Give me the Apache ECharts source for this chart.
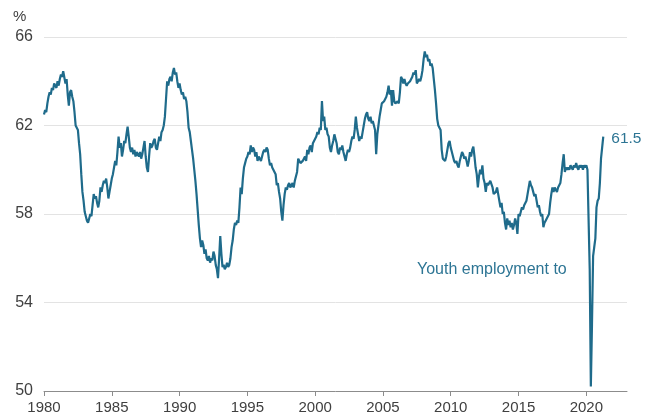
<!DOCTYPE html>
<html>
<head>
<meta charset="utf-8">
<script src="https://cdn.jsdelivr.net/npm/echarts@6/dist/echarts.min.js"></script>
<style>
  html, body { margin: 0; padding: 0; background: #fff; }
  #chart { width: 659px; height: 419px; }
</style>
</head>
<body>
<div id="chart"></div>
<script>
// monthly youth employment rate, %, from Jan 1980
const startYear = 1980
const youthRate = [
  62.5, 62.7, 62.6, 63.0, 63.3, 63.5, 63.4, 63.7, 63.6, 63.9, 63.8, 63.7, // 1980
  64.0, 63.8, 64.1, 64.3, 64.2, 64.45, 64.4, 63.9, 64.1, 63.4, 62.9, 63.5, // 1981
  63.6, 63.3, 63.1, 62.6, 62.0, 61.9, 61.8, 61.2, 60.7, 59.8, 59.0, 58.6, // 1982
  58.1, 57.9, 57.7, 57.6, 57.8, 58.0, 57.9, 58.4, 58.9, 58.7, 58.8, 58.5, // 1983
  58.3, 58.6, 59.2, 59.0, 59.3, 59.5, 59.4, 59.6, 59.2, 58.7, 59.0, 59.3, // 1984
  59.6, 59.8, 60.1, 60.4, 60.2, 60.8, 61.5, 61.0, 61.2, 60.6, 60.9, 61.3, // 1985
  61.2, 61.6, 61.95, 61.5, 61.0, 60.8, 61.0, 60.7, 60.9, 60.6, 60.8, 60.7, // 1986
  60.6, 60.8, 60.5, 60.7, 61.0, 61.3, 60.6, 60.1, 59.9, 60.6, 61.2, 61.0, // 1987
  61.1, 61.3, 61.4, 61.0, 60.9, 61.2, 61.5, 61.3, 61.7, 61.8, 62.0, 62.4, // 1988
  63.2, 64.0, 63.8, 64.1, 64.2, 64.0, 64.4, 64.6, 64.3, 64.4, 64.0, 63.7, // 1989
  63.9, 63.6, 63.4, 63.5, 63.2, 63.3, 63.1, 62.6, 61.9, 61.7, 61.3, 60.9, // 1990
  60.5, 60.0, 59.5, 58.9, 58.2, 57.5, 56.9, 56.5, 56.8, 56.6, 56.2, 56.4, // 1991
  56.0, 55.9, 56.1, 55.8, 56.0, 55.9, 56.3, 56.1, 55.7, 55.5, 55.1, 56.0, // 1992
  57.0, 56.2, 55.6, 55.7, 55.5, 55.6, 55.8, 55.6, 55.7, 56.0, 56.5, 56.8, // 1993
  57.3, 57.6, 57.5, 57.7, 57.6, 58.3, 59.2, 58.9, 59.6, 60.1, 60.3, 60.5, // 1994
  60.6, 60.8, 60.7, 61.1, 60.8, 61.0, 60.9, 60.6, 60.8, 60.4, 60.6, 60.5, // 1995
  60.4, 60.6, 60.8, 60.9, 60.8, 61.0, 60.9, 60.5, 60.2, 60.3, 60.1, 60.0, // 1996
  60.0, 59.8, 59.3, 59.4, 59.0, 58.7, 58.1, 57.7, 58.4, 58.9, 59.2, 59.1, // 1997
  59.3, 59.4, 59.2, 59.3, 59.4, 59.2, 59.5, 59.5, 59.9, 60.5, 60.4, 60.3, // 1998
  60.3, 60.4, 60.5, 60.6, 60.4, 60.9, 60.7, 61.0, 61.1, 60.8, 61.2, 61.3, // 1999
  61.3, 61.5, 61.7, 61.6, 61.9, 61.8, 63.1, 62.2, 62.4, 61.8, 61.9, 61.6, // 2000
  61.5, 61.0, 60.8, 61.1, 61.3, 61.6, 61.4, 61.2, 60.8, 60.7, 61.0, 60.9, // 2001
  61.1, 60.8, 60.6, 60.4, 60.7, 60.9, 60.8, 61.0, 61.3, 61.5, 61.4, 61.8, // 2002
  62.4, 61.9, 61.6, 61.3, 61.5, 61.4, 61.7, 62.0, 62.3, 62.5, 62.6, 62.3, // 2003
  62.2, 62.4, 62.1, 62.2, 62.0, 61.8, 60.7, 61.6, 62.0, 62.4, 62.7, 63.0, // 2004
  63.0, 63.1, 63.2, 63.3, 63.5, 63.8, 63.4, 63.6, 62.9, 63.6, 63.1, 63.0, // 2005
  63.0, 63.1, 63.0, 63.5, 64.2, 64.1, 63.9, 64.1, 63.9, 63.8, 63.9, 63.9, // 2006
  64.0, 64.1, 64.2, 64.4, 64.3, 64.5, 63.9, 64.0, 64.1, 64.0, 64.2, 64.5, // 2007
  65.0, 65.35, 65.1, 65.2, 64.9, 65.0, 64.7, 64.8, 64.6, 64.1, 63.6, 63.0, // 2008
  62.3, 62.0, 61.9, 61.8, 60.9, 60.5, 60.5, 60.4, 60.6, 60.9, 61.2, 61.3, // 2009
  61.0, 60.8, 60.6, 60.4, 60.3, 60.4, 60.2, 60.1, 60.4, 60.6, 60.8, 60.7, // 2010
  60.5, 60.6, 60.4, 60.15, 60.4, 60.8, 60.6, 60.9, 61.05, 60.6, 60.1, 59.8, // 2011
  59.2, 59.7, 60.0, 59.8, 60.2, 59.6, 59.4, 59.0, 59.4, 59.3, 59.4, 59.5, // 2012
  59.5, 59.2, 58.9, 58.9, 59.0, 59.2, 58.9, 58.6, 58.3, 58.5, 58.0, 58.1, // 2013
  57.6, 57.3, 57.8, 57.5, 57.7, 57.4, 57.6, 57.3, 57.5, 57.8, 57.6, 57.1, // 2014
  58.0, 57.9, 58.1, 58.3, 58.2, 58.4, 58.5, 58.6, 58.9, 59.2, 59.5, 59.3, // 2015
  59.2, 59.0, 58.8, 58.9, 58.6, 58.3, 58.4, 58.1, 57.9, 58.0, 57.4, 57.6, // 2016
  57.7, 57.8, 57.9, 58.0, 58.5, 58.9, 59.2, 59.0, 59.2, 59.1, 59.0, 59.2, // 2017
  59.3, 59.4, 59.8, 60.3, 60.7, 59.9, 60.1, 60.0, 60.1, 60.0, 60.2, 60.1, // 2018
  60.0, 60.2, 60.1, 60.3, 60.1, 60.0, 60.2, 60.1, 60.2, 60.0, 60.2, 60.1, // 2019
  60.2, 60.0, 60.0, 55.5, 50.2, 53.0, 56.1, 56.5, 56.9, 58.3, 58.6, 58.7, // 2020
  59.4, 60.5, 61.0, 61.5                                                  // 2021
]
const yTicks = [50, 54, 58, 62, 66]
const xTicks = [1980, 1985, 1990, 1995, 2000, 2005, 2010, 2015, 2020]
const noteText = 'Youth employment to'

const lineColor = '#1f6b8b'
const textColor = '#404040'
const fontFam = 'Liberation Sans, Arial, sans-serif'

let myChart = echarts.init(document.getElementById('chart'))
const points = youthRate.map((v, i) => [startYear + i / 12, v])

const option = {
  animation: false,
  grid: {
    left: 44,
    right: 32,
    top: 37,
    bottom: 28
  },
  xAxis: {
    type: 'value',
    min: 1980,
    max: 2023,
    interval: 5,
    axisLine: { show: true, lineStyle: { color: '#8c8c8c', width: 1 } },
    axisTick: { show: true, length: 5, customValues: xTicks, lineStyle: { color: '#8c8c8c' } },
    axisLabel: {
      customValues: xTicks,
      formatter: (v) => String(v),
      margin: 9,
      color: textColor,
      fontFamily: fontFam,
      fontSize: 15
    },
    splitLine: { show: false }
  },
  yAxis: {
    type: 'value',
    min: 50,
    max: 66,
    interval: 4,
    axisLine: { show: false },
    axisTick: { show: false },
    axisLabel: {
      customValues: yTicks,
      margin: 11,
      color: textColor,
      fontFamily: fontFam,
      fontSize: 16
    },
    splitLine: { show: true, lineStyle: { color: '#e3e3e3', width: 1 } }
  },
  graphic: [
    {
      type: 'text',
      left: 13,
      top: 9,
      style: { text: '%', fill: textColor, font: '15px ' + fontFam }
    },
    {
      type: 'text',
      left: 417,
      top: 262,
      style: { text: noteText, fill: '#2d7594', font: '16px ' + fontFam }
    }
  ],
  series: [
    {
      type: 'line',
      data: points,
      showSymbol: false,
      symbol: 'none',
      lineStyle: { color: lineColor, width: 2.2 },
      endLabel: {
        show: true,
        distance: 8,
        offset: [0, 2],
        color: '#2d7594',
        fontFamily: fontFam,
        fontSize: 15.5,
        formatter: (p) => p.value[1].toFixed(1)
      }
    }
  ]
}

myChart.setOption(option)
</script>
</body>
</html>
